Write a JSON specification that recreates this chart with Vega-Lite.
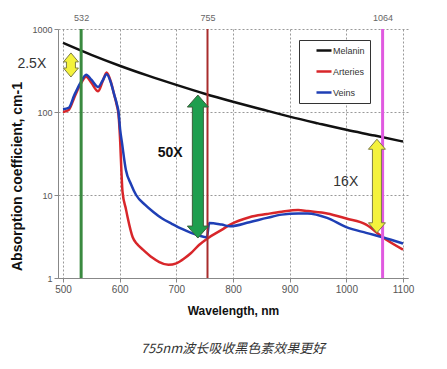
{
  "$schema": "https://vega.github.io/schema/vega-lite/v6.json",
  "width": 350,
  "height": 249,
  "autosize": {"type": "none"},
  "padding": {"left": 58, "top": 29, "right": 39, "bottom": 91},
  "background": "white",
  "config": {"view": {"stroke": null}, "font": "Liberation Sans"},
  "title": {"text": "755nm波长吸收黑色素效果更好", "orient": "bottom", "anchor": "middle", "font": "Noto Sans CJK SC", "fontStyle": "italic", "fontWeight": "normal", "fontSize": 13, "color": "#333333", "offset": 27},
  "resolve": {"axis": {"x": "independent", "y": "independent"}},
  "datasets": {
    "curves": [
      {"series": "Melanin", "nm": 500, "value": 680},
      {"series": "Melanin", "nm": 550, "value": 488},
      {"series": "Melanin", "nm": 600, "value": 361},
      {"series": "Melanin", "nm": 650, "value": 274},
      {"series": "Melanin", "nm": 700, "value": 212},
      {"series": "Melanin", "nm": 750, "value": 166},
      {"series": "Melanin", "nm": 800, "value": 133},
      {"series": "Melanin", "nm": 850, "value": 108},
      {"series": "Melanin", "nm": 900, "value": 88},
      {"series": "Melanin", "nm": 950, "value": 73},
      {"series": "Melanin", "nm": 1000, "value": 61},
      {"series": "Melanin", "nm": 1050, "value": 52},
      {"series": "Melanin", "nm": 1100, "value": 44},
      {"series": "Arteries", "nm": 500, "value": 100},
      {"series": "Arteries", "nm": 510, "value": 106},
      {"series": "Arteries", "nm": 520, "value": 150},
      {"series": "Arteries", "nm": 530, "value": 210},
      {"series": "Arteries", "nm": 541, "value": 265},
      {"series": "Arteries", "nm": 550, "value": 225},
      {"series": "Arteries", "nm": 562, "value": 178},
      {"series": "Arteries", "nm": 570, "value": 235},
      {"series": "Arteries", "nm": 577, "value": 300},
      {"series": "Arteries", "nm": 585, "value": 225},
      {"series": "Arteries", "nm": 590, "value": 165},
      {"series": "Arteries", "nm": 595, "value": 120},
      {"series": "Arteries", "nm": 598, "value": 92},
      {"series": "Arteries", "nm": 601, "value": 43},
      {"series": "Arteries", "nm": 603, "value": 20},
      {"series": "Arteries", "nm": 605, "value": 11},
      {"series": "Arteries", "nm": 611, "value": 6.8},
      {"series": "Arteries", "nm": 614, "value": 5.4},
      {"series": "Arteries", "nm": 623, "value": 3.1},
      {"series": "Arteries", "nm": 630, "value": 2.6},
      {"series": "Arteries", "nm": 641, "value": 2.2},
      {"series": "Arteries", "nm": 658, "value": 1.75},
      {"series": "Arteries", "nm": 670, "value": 1.55},
      {"series": "Arteries", "nm": 686, "value": 1.44},
      {"series": "Arteries", "nm": 700, "value": 1.5},
      {"series": "Arteries", "nm": 715, "value": 1.74},
      {"series": "Arteries", "nm": 726, "value": 2.0},
      {"series": "Arteries", "nm": 740, "value": 2.5},
      {"series": "Arteries", "nm": 755, "value": 3.0},
      {"series": "Arteries", "nm": 780, "value": 3.8},
      {"series": "Arteries", "nm": 795, "value": 4.4},
      {"series": "Arteries", "nm": 829, "value": 5.4},
      {"series": "Arteries", "nm": 860, "value": 5.9},
      {"series": "Arteries", "nm": 886, "value": 6.3},
      {"series": "Arteries", "nm": 915, "value": 6.6},
      {"series": "Arteries", "nm": 932, "value": 6.4},
      {"series": "Arteries", "nm": 966, "value": 6.0},
      {"series": "Arteries", "nm": 1000, "value": 5.2},
      {"series": "Arteries", "nm": 1035, "value": 4.4},
      {"series": "Arteries", "nm": 1064, "value": 3.1},
      {"series": "Arteries", "nm": 1100, "value": 2.2},
      {"series": "Veins", "nm": 500, "value": 108},
      {"series": "Veins", "nm": 510, "value": 112},
      {"series": "Veins", "nm": 520, "value": 160},
      {"series": "Veins", "nm": 530, "value": 220},
      {"series": "Veins", "nm": 541, "value": 282},
      {"series": "Veins", "nm": 550, "value": 245},
      {"series": "Veins", "nm": 562, "value": 200},
      {"series": "Veins", "nm": 570, "value": 240},
      {"series": "Veins", "nm": 577, "value": 285},
      {"series": "Veins", "nm": 585, "value": 220},
      {"series": "Veins", "nm": 590, "value": 165},
      {"series": "Veins", "nm": 595, "value": 125},
      {"series": "Veins", "nm": 598, "value": 100},
      {"series": "Veins", "nm": 601, "value": 60},
      {"series": "Veins", "nm": 604, "value": 43},
      {"series": "Veins", "nm": 611, "value": 20},
      {"series": "Veins", "nm": 620, "value": 13.5},
      {"series": "Veins", "nm": 629, "value": 10},
      {"series": "Veins", "nm": 645, "value": 7.6},
      {"series": "Veins", "nm": 660, "value": 6.2},
      {"series": "Veins", "nm": 675, "value": 5.2},
      {"series": "Veins", "nm": 692, "value": 4.5},
      {"series": "Veins", "nm": 710, "value": 3.9},
      {"series": "Veins", "nm": 726, "value": 3.5},
      {"series": "Veins", "nm": 740, "value": 3.25},
      {"series": "Veins", "nm": 754, "value": 3.1},
      {"series": "Veins", "nm": 758, "value": 4.6},
      {"series": "Veins", "nm": 780, "value": 4.4},
      {"series": "Veins", "nm": 795, "value": 4.2},
      {"series": "Veins", "nm": 829, "value": 4.7},
      {"series": "Veins", "nm": 860, "value": 5.3},
      {"series": "Veins", "nm": 886, "value": 5.8},
      {"series": "Veins", "nm": 915, "value": 6.0},
      {"series": "Veins", "nm": 932, "value": 6.0},
      {"series": "Veins", "nm": 966, "value": 5.3},
      {"series": "Veins", "nm": 1000, "value": 4.1},
      {"series": "Veins", "nm": 1035, "value": 3.5},
      {"series": "Veins", "nm": 1064, "value": 3.1},
      {"series": "Veins", "nm": 1100, "value": 2.6}
    ],
    "arrows": [
      {"arrow": "small", "nm": 514, "tip_top": 515, "tip_bot": 264, "body_top": 435, "body_bot": 312},
      {"arrow": "green", "nm": 738, "tip_top": 160, "tip_bot": 3.03, "body_top": 125, "body_bot": 3.9},
      {"arrow": "big", "nm": 1054, "tip_top": 47, "tip_bot": 3.5, "body_top": 38.8, "body_bot": 4.25}
    ],
    "labels": [
      {"label": "2.5X", "nm": 445, "value": 380},
      {"label": "50X", "nm": 689, "value": 32},
      {"label": "16X", "nm": 999, "value": 14.4}
    ]
  },
  "layer": [
    {
      "data": {"name": "curves"},
      "mark": {"type": "line", "interpolate": "monotone", "strokeWidth": 2.5},
      "encoding": {
        "x": {"field": "nm", "type": "quantitative", "scale": {"domain": [500, 1100], "nice": false},
          "axis": {"orient": "bottom", "values": [500, 600, 700, 800, 900, 1000, 1100], "format": "d", "title": "Wavelength, nm", "titleFontWeight": "bold", "titleFontSize": 12, "titleColor": "#111111", "titlePadding": 11, "labelFontSize": 10, "labelColor": "#555555", "labelPadding": 2, "tickSize": 4, "tickColor": "#888888", "domainColor": "#888888", "grid": true, "gridColor": "#999999", "gridDash": [2, 2], "labelFlush": false}},
        "y": {"field": "value", "type": "quantitative", "scale": {"type": "log", "domain": [1, 1000], "nice": false},
          "axis": {"orient": "left", "values": [1, 10, 100, 1000], "format": "d", "title": "Absorption coefficient, cm-1", "titleFontWeight": "bold", "titleFontSize": 14, "titleColor": "#111111", "titlePadding": 7, "titleY": 147, "labelFontSize": 9, "labelColor": "#555555", "labelPadding": 2, "tickSize": 4, "tickColor": "#888888", "domainColor": "#888888", "grid": true, "gridColor": "#999999", "gridDash": [2, 2], "labelFlush": false}},
        "color": {"field": "series", "type": "nominal", "sort": ["Melanin", "Arteries", "Veins"],
          "scale": {"domain": ["Melanin", "Arteries", "Veins"], "range": ["#111111", "#d8262a", "#1f3fb5"]},
          "legend": {"orient": "none", "legendX": 241, "legendY": 11, "title": null, "strokeColor": "#333333", "fillColor": "white", "padding": 5, "symbolType": "stroke", "symbolSize": 225, "symbolStrokeWidth": 2.5, "clipHeight": 11, "rowPadding": 10, "labelFontSize": 9, "labelColor": "#333333", "symbolOffset": 11, "labelOffset": 0}}
      }
    },
    {
      "data": {"values": [{"nm": 532}]},
      "mark": {"type": "rule", "color": "#3a8a40", "strokeWidth": 3},
      "encoding": {
        "x": {"field": "nm", "type": "quantitative", "scale": {"domain": [500, 1100], "nice": false},
          "axis": {"orient": "top", "values": [532, 755, 1064], "format": "d", "title": null, "domain": false, "ticks": false, "grid": false, "labelFontSize": 9, "labelColor": "#666666", "labelPadding": 7}}
      }
    },
    {
      "data": {"values": [{"nm": 755}]},
      "mark": {"type": "rule", "color": "#a82c2c", "strokeWidth": 2},
      "encoding": {"x": {"field": "nm", "type": "quantitative", "scale": {"domain": [500, 1100], "nice": false}, "axis": null}}
    },
    {
      "data": {"values": [{"nm": 1064}]},
      "mark": {"type": "rule", "color": "#e05ae0", "strokeWidth": 3},
      "encoding": {"x": {"field": "nm", "type": "quantitative", "scale": {"domain": [500, 1100], "nice": false}, "axis": null}}
    },
    {
      "data": {"name": "arrows"},
      "transform": [{"filter": "datum.arrow == 'small'"}],
      "mark": {"type": "bar", "width": 9, "fill": "#f4f23c", "stroke": "#7c7c44", "strokeWidth": 1},
      "encoding": {
        "x": {"field": "nm", "type": "quantitative", "scale": {"domain": [500, 1100], "nice": false}, "axis": null},
        "y": {"field": "body_top", "type": "quantitative", "scale": {"type": "log", "domain": [1, 1000], "nice": false}, "axis": null},
        "y2": {"field": "body_bot"}
      }
    },
    {
      "data": {"name": "arrows"},
      "transform": [{"filter": "datum.arrow == 'small'"}],
      "mark": {"type": "point", "shape": "M-0.6,1.2L-1,1.2L0,0L1,1.2L0.6,1.2", "size": 225, "filled": true, "fill": "#f4f23c", "stroke": "#7c7c44", "strokeWidth": 1, "opacity": 1},
      "encoding": {
        "x": {"field": "nm", "type": "quantitative", "scale": {"domain": [500, 1100], "nice": false}, "axis": null},
        "y": {"field": "tip_top", "type": "quantitative", "scale": {"type": "log", "domain": [1, 1000], "nice": false}, "axis": null}
      }
    },
    {
      "data": {"name": "arrows"},
      "transform": [{"filter": "datum.arrow == 'small'"}],
      "mark": {"type": "point", "shape": "M-0.6,-1.2L-1,-1.2L0,0L1,-1.2L0.6,-1.2", "size": 225, "filled": true, "fill": "#f4f23c", "stroke": "#7c7c44", "strokeWidth": 1, "opacity": 1},
      "encoding": {
        "x": {"field": "nm", "type": "quantitative", "scale": {"domain": [500, 1100], "nice": false}, "axis": null},
        "y": {"field": "tip_bot", "type": "quantitative", "scale": {"type": "log", "domain": [1, 1000], "nice": false}, "axis": null}
      }
    },
    {
      "data": {"name": "arrows"},
      "transform": [{"filter": "datum.arrow == 'green'"}],
      "mark": {"type": "bar", "width": 11, "fill": "#1e9e4e", "stroke": "#3b5e3b", "strokeWidth": 1},
      "encoding": {
        "x": {"field": "nm", "type": "quantitative", "scale": {"domain": [500, 1100], "nice": false}, "axis": null},
        "y": {"field": "body_top", "type": "quantitative", "scale": {"type": "log", "domain": [1, 1000], "nice": false}, "axis": null},
        "y2": {"field": "body_bot"}
      }
    },
    {
      "data": {"name": "arrows"},
      "transform": [{"filter": "datum.arrow == 'green'"}],
      "mark": {"type": "point", "shape": "M-0.52,1.14L-1,1.14L0,0L1,1.14L0.52,1.14", "size": 441, "filled": true, "fill": "#1e9e4e", "stroke": "#3b5e3b", "strokeWidth": 1, "opacity": 1},
      "encoding": {
        "x": {"field": "nm", "type": "quantitative", "scale": {"domain": [500, 1100], "nice": false}, "axis": null},
        "y": {"field": "tip_top", "type": "quantitative", "scale": {"type": "log", "domain": [1, 1000], "nice": false}, "axis": null}
      }
    },
    {
      "data": {"name": "arrows"},
      "transform": [{"filter": "datum.arrow == 'green'"}],
      "mark": {"type": "point", "shape": "M-0.52,-1.14L-1,-1.14L0,0L1,-1.14L0.52,-1.14", "size": 441, "filled": true, "fill": "#1e9e4e", "stroke": "#3b5e3b", "strokeWidth": 1, "opacity": 1},
      "encoding": {
        "x": {"field": "nm", "type": "quantitative", "scale": {"domain": [500, 1100], "nice": false}, "axis": null},
        "y": {"field": "tip_bot", "type": "quantitative", "scale": {"type": "log", "domain": [1, 1000], "nice": false}, "axis": null}
      }
    },
    {
      "data": {"name": "arrows"},
      "transform": [{"filter": "datum.arrow == 'big'"}],
      "mark": {"type": "bar", "width": 9, "fill": "#f4f23c", "stroke": "#7c7c44", "strokeWidth": 1},
      "encoding": {
        "x": {"field": "nm", "type": "quantitative", "scale": {"domain": [500, 1100], "nice": false}, "axis": null},
        "y": {"field": "body_top", "type": "quantitative", "scale": {"type": "log", "domain": [1, 1000], "nice": false}, "axis": null},
        "y2": {"field": "body_bot"}
      }
    },
    {
      "data": {"name": "arrows"},
      "transform": [{"filter": "datum.arrow == 'big'"}],
      "mark": {"type": "point", "shape": "M-0.53,1.18L-1,1.18L0,0L1,1.18L0.53,1.18", "size": 289, "filled": true, "fill": "#f4f23c", "stroke": "#7c7c44", "strokeWidth": 1, "opacity": 1},
      "encoding": {
        "x": {"field": "nm", "type": "quantitative", "scale": {"domain": [500, 1100], "nice": false}, "axis": null},
        "y": {"field": "tip_top", "type": "quantitative", "scale": {"type": "log", "domain": [1, 1000], "nice": false}, "axis": null}
      }
    },
    {
      "data": {"name": "arrows"},
      "transform": [{"filter": "datum.arrow == 'big'"}],
      "mark": {"type": "point", "shape": "M-0.53,-1.18L-1,-1.18L0,0L1,-1.18L0.53,-1.18", "size": 289, "filled": true, "fill": "#f4f23c", "stroke": "#7c7c44", "strokeWidth": 1, "opacity": 1},
      "encoding": {
        "x": {"field": "nm", "type": "quantitative", "scale": {"domain": [500, 1100], "nice": false}, "axis": null},
        "y": {"field": "tip_bot", "type": "quantitative", "scale": {"type": "log", "domain": [1, 1000], "nice": false}, "axis": null}
      }
    },
    {
      "data": {"name": "labels"},
      "transform": [{"filter": "datum.label != '50X'"}],
      "mark": {"type": "text", "fontSize": 14, "color": "#333333", "font": "Liberation Sans", "align": "center", "baseline": "middle"},
      "encoding": {
        "x": {"field": "nm", "type": "quantitative", "scale": {"domain": [500, 1100], "nice": false}, "axis": null},
        "y": {"field": "value", "type": "quantitative", "scale": {"type": "log", "domain": [1, 1000], "nice": false}, "axis": null},
        "text": {"field": "label"}
      }
    },
    {
      "data": {"name": "labels"},
      "transform": [{"filter": "datum.label == '50X'"}],
      "mark": {"type": "text", "fontSize": 14, "fontWeight": "bold", "color": "#111111", "font": "Liberation Sans", "align": "center", "baseline": "middle"},
      "encoding": {
        "x": {"field": "nm", "type": "quantitative", "scale": {"domain": [500, 1100], "nice": false}, "axis": null},
        "y": {"field": "value", "type": "quantitative", "scale": {"type": "log", "domain": [1, 1000], "nice": false}, "axis": null},
        "text": {"field": "label"}
      }
    }
  ]
}
